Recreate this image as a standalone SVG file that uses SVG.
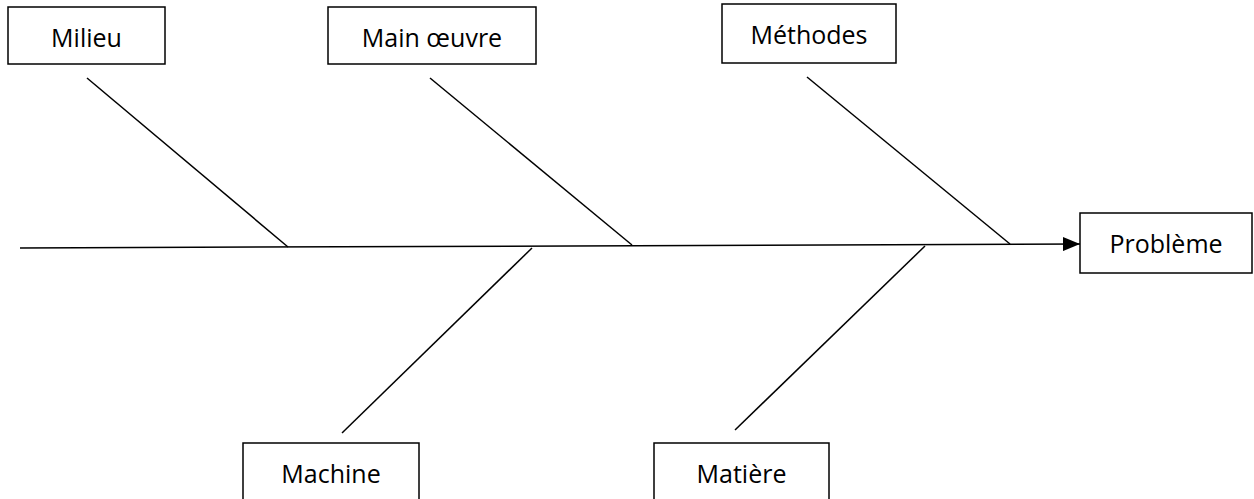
<svg xmlns="http://www.w3.org/2000/svg" width="1254" height="499" viewBox="0 0 1254 499">
<style>
.box{fill:#fff;stroke:#000;stroke-width:1.5}
.lbl{font-family:"Open Sans","Liberation Sans",sans-serif;font-size:25px;fill:#000;text-anchor:middle}
.ln{stroke:#000;stroke-width:1.5;fill:none}
</style>
<defs>
<marker id="arr" markerWidth="17" markerHeight="14" refX="17" refY="7" orient="auto" markerUnits="userSpaceOnUse">
<path d="M0,0 L17,7 L0,14 Z" fill="#000"/>
</marker>
</defs>
<rect width="1254" height="499" fill="#fff"/>
<g id="connectors">
<path class="ln" d="M20,248 L1080,244" stroke-width="2.2" marker-end="url(#arr)"/>
<path class="ln" d="M87,78 L288,247"/>
<path class="ln" d="M430,78 L632,245"/>
<path class="ln" d="M807,77 L1010,244"/>
<path class="ln" d="M342,433 L532,248"/>
<path class="ln" d="M735,430 L925,246"/>
</g>
<g id="milieu"><rect class="box" x="8" y="7" width="157" height="57"/><text class="lbl" x="86.5" y="47">Milieu</text></g>
<g id="main-oeuvre"><rect class="box" x="328" y="7" width="208" height="57"/><text class="lbl" x="432" y="47">Main œuvre</text></g>
<g id="methodes"><rect class="box" x="722" y="4" width="174" height="59"/><text class="lbl" x="809" y="44">Méthodes</text></g>
<g id="probleme"><rect class="box" x="1080" y="213" width="172" height="60"/><text class="lbl" x="1166" y="253">Problème</text></g>
<g id="machine"><rect class="box" x="243" y="443" width="176" height="70"/><text class="lbl" x="331" y="483">Machine</text></g>
<g id="matiere"><rect class="box" x="654" y="443" width="175" height="70"/><text class="lbl" x="741.5" y="483">Matière</text></g>
</svg>
